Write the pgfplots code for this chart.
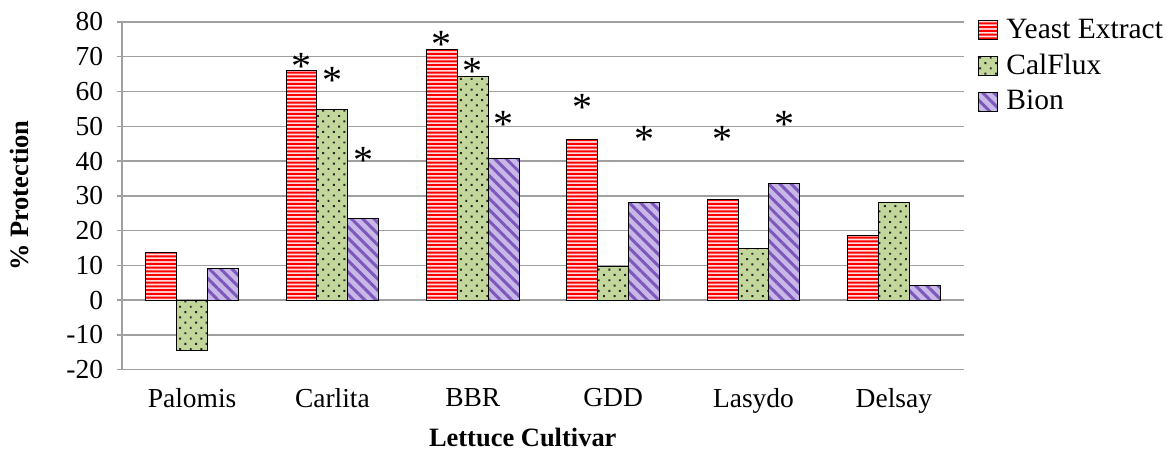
\documentclass[border=0pt]{standalone}
\usepackage{pgfplots}
\pgfplotsset{compat=1.18}
\usepackage{fontspec}
\setmainfont{Liberation Serif}
\usetikzlibrary{patterns,patterns.meta}
\pgfdeclarepatternformonly{ystripes}{\pgfqpoint{0pt}{0pt}}{\pgfqpoint{60pt}{12pt}}{\pgfqpoint{60pt}{12pt}}{%
  \pgfpathrectangle{\pgfqpoint{0pt}{0pt}}{\pgfqpoint{60pt}{0.8pt}}%
  \pgfpathrectangle{\pgfqpoint{0pt}{1.5pt}}{\pgfqpoint{60pt}{0.8pt}}%
  \pgfpathrectangle{\pgfqpoint{0pt}{3pt}}{\pgfqpoint{60pt}{0.8pt}}%
  \pgfpathrectangle{\pgfqpoint{0pt}{4.5pt}}{\pgfqpoint{60pt}{0.8pt}}%
  \pgfpathrectangle{\pgfqpoint{0pt}{6pt}}{\pgfqpoint{60pt}{0.8pt}}%
  \pgfpathrectangle{\pgfqpoint{0pt}{7.5pt}}{\pgfqpoint{60pt}{0.8pt}}%
  \pgfpathrectangle{\pgfqpoint{0pt}{9pt}}{\pgfqpoint{60pt}{0.8pt}}%
  \pgfpathrectangle{\pgfqpoint{0pt}{10.5pt}}{\pgfqpoint{60pt}{0.8pt}}%
  \pgfusepath{fill}}
\definecolor{yfill}{HTML}{FFE0E0}
\definecolor{yline}{HTML}{FF0000}
\definecolor{cfill}{HTML}{C3D69B}
\definecolor{bfill}{HTML}{C8B8E8}
\definecolor{bline}{HTML}{7E57BA}
\definecolor{gridc}{HTML}{A0A0A0}
\begin{document}
\begin{tikzpicture}
\begin{axis}[
  scale only axis,
  width=337.2pt, height=139.2pt,
  xmin=-0.5, xmax=5.5,
  ymin=-20, ymax=80,
  ytick={-20,-10,0,10,20,30,40,50,60,70,80},
  yticklabels={-20,-10,0,10,20,30,40,50,60,70,80},
  xtick={0,1,2,3,4,5},
  xticklabels={Palomis,Carlita,BBR,GDD,Lasydo,Delsay},
  axis x line*=bottom,
  axis y line*=left,
  x axis line style={draw=none},
  y axis line style={draw=gridc, line width=0.6pt, -},
  xtick style={draw=none},
  ytick style={draw=gridc, line width=0.6pt},
  tick align=center,
  major tick length=4pt,
  ymajorgrids,
  grid style={gridc, line width=0.6pt},
  ticklabel style={font=\rmfamily\fontsize{11}{13}\selectfont},
  xticklabel style={yshift=-2pt},
  yticklabel style={xshift=-2pt},
  xlabel={\textbf{Lettuce Cultivar}},
  ylabel={\textbf{\% Protection}},
  label style={font=\rmfamily\fontsize{10.6}{12}\selectfont},
  xlabel style={at={(axis description cs:0.476,-0.195)}, anchor=center},
  ylabel style={at={(axis description cs:-0.121,0.5)}, anchor=center, rotate=0},
  legend style={draw=none, fill=none, at={(axis description cs:1.0165,1.025)}, anchor=north west,
    font=\rmfamily\fontsize{11.8}{13}\selectfont, row sep=0.8pt, inner sep=0pt,
    nodes={inner xsep=3.2pt}},
  legend cell align=left,
  legend image code/.code={\draw[#1] (0pt,-3.8pt) rectangle (7.6pt,3.8pt);},
  clip=false,
]
\addplot[ybar, bar width=0.22, bar shift=-0.22, draw=black, line width=0.4pt, fill=yfill,
  postaction={pattern=ystripes, pattern color=yline}]
  coordinates {(0,13.8) (1,66.1) (2,72.1) (3,46.3) (4,29.0) (5,18.7)};
\addlegendentry{Yeast Extract}
\addplot[ybar, bar width=0.22, bar shift=0, draw=black, line width=0.4pt, fill=cfill,
  postaction={pattern={Dots[angle=45,distance=3pt,radius=0.55pt]}, pattern color=black!85}]
  coordinates {(0,-14.4) (1,54.9) (2,64.4) (3,9.8) (4,14.9) (5,28.2)};
\addlegendentry{CalFlux}
\addplot[ybar, bar width=0.22, bar shift=0.22, draw=black, line width=0.4pt, fill=bfill,
  postaction={pattern={Lines[angle=-45,distance=3.2pt,line width=1.2pt]}, pattern color=bline}]
  coordinates {(0,9.2) (1,23.6) (2,40.8) (3,28.2) (4,33.6) (5,4.3)};
\addlegendentry{Bion}
\addplot[forget plot, draw=none, mark=none, nodes near coords={*},
  every node near coord/.append style={anchor=center, inner sep=0pt, font=\rmfamily\fontsize{16}{16}\selectfont}]
  coordinates {(0.78,67.3) (1.0,63.3) (1.22,40.3) (1.78,73.4) (2.0,65.9) (2.22,50.4)
    (2.78,55.3) (3.22,46.1) (3.78,46.1) (4.22,50.4)};
\path (rel axis cs:0,0) ++(-48.8pt,-32pt) rectangle ++(468.4pt,180pt);
\end{axis}
\end{tikzpicture}
\end{document}
